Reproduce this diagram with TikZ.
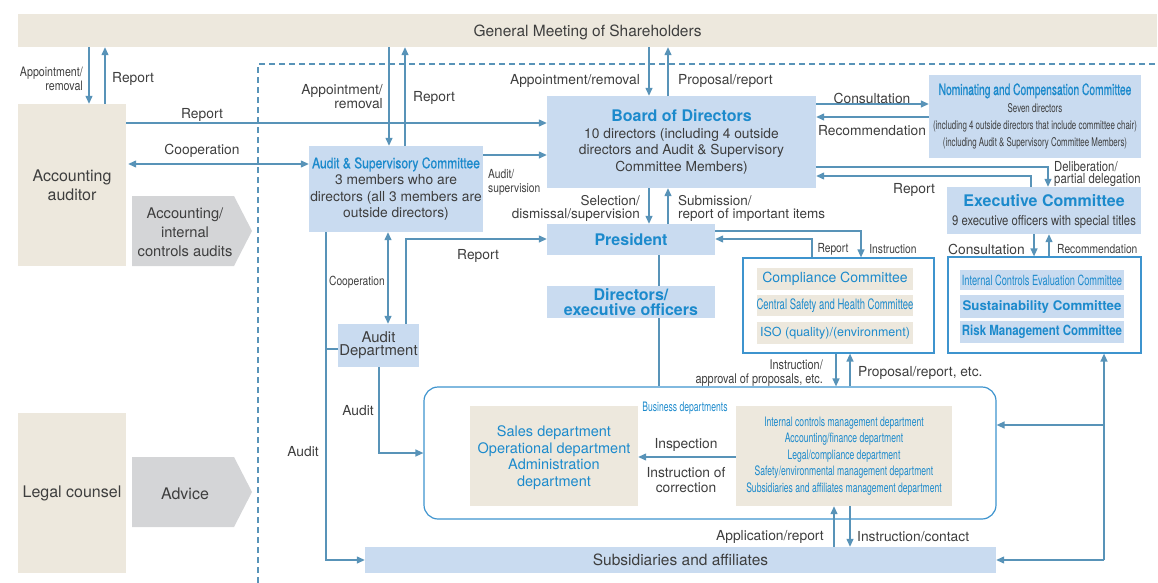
\documentclass[tikz,border=0pt]{standalone}
\usepackage{fontspec}
\setmainfont{TeX Gyre Heros}
\newfontfamily\cnd[FakeStretch=0.66]{TeX Gyre Heros}
\newfontfamily\cndmed[FakeStretch=0.66, FakeBold=0.8]{TeX Gyre Heros}
\newfontfamily\narrow[FakeStretch=0.82]{TeX Gyre Heros}
\newfontfamily\narrowmed[FakeStretch=0.82, FakeBold=0.8]{TeX Gyre Heros}
\usetikzlibrary{arrows.meta}

\definecolor{linkblue}{RGB}{88,147,184}
\definecolor{frameblue}{RGB}{62,148,206}
\definecolor{boxblue}{RGB}{201,219,240}
\definecolor{titleblue}{RGB}{28,138,204}
\definecolor{beige}{RGB}{237,232,221}
\definecolor{chevgray}{RGB}{212,213,215}
\definecolor{textgray}{RGB}{62,62,62}

\newcommand\headfont{\fontsize{16}{19}\selectfont\bfseries}

\begin{document}
\begin{tikzpicture}[x=1pt, y=-1pt, >={Triangle[length=8pt,width=7pt]},
    font=\fontsize{13.8}{16.5}\selectfont]

  \tikzstyle{link}=[draw=linkblue, line width=1.3pt]
  \tikzstyle{lbl}=[inner sep=0pt, text=textgray, align=center, yshift=-2pt]
  \tikzstyle{sml}=[lbl, font=\narrow\fontsize{12.5}{14}\selectfont]
  \tikzstyle{tan}=[fill=beige, inner sep=0pt, text=textgray, align=center]
  \tikzstyle{pale}=[fill=boxblue, inner sep=0pt, text=textgray, align=center]
  \tikzstyle{frame}=[draw=frameblue, line width=1.2pt, inner sep=0pt]

  \useasboundingbox (0,0) rectangle (1158,583);

  % company boundary
  \draw [linkblue, line width=1.2pt, dash pattern=on 6pt off 4pt] (258,583) |- (1158,64);

  % outside parties
  \node [tan, minimum width=1139, minimum height=33, text depth=0pt, font=\fontsize{15.5}{18}\selectfont] (gms) at (587.5,30.5) {General Meeting of Shareholders};
  \node [tan, minimum width=108, minimum height=162, font=\fontsize{16}{19}\selectfont] (accaud) at (72,185) {Accounting\\auditor};
  \node [tan, minimum width=108, minimum height=160, font=\fontsize{16}{19}\selectfont] (legal) at (72,493) {Legal counsel};

  \fill [chevgray] (132,196) -- (234,196) -- (252,231) -- (234,266) -- (132,266) -- cycle;
  \node [lbl, font=\fontsize{14.7}{19}\selectfont] (audits) at (185,230) {Accounting/\\internal\\controls audits};
  \fill [chevgray] (132,457) -- (234,457) -- (252,492) -- (234,527) -- (132,527) -- cycle;
  \node [lbl, font=\fontsize{16}{19}\selectfont] (advice) at (185,492) {Advice};

  % governance boxes
  \node [pale, minimum width=174, minimum height=86] (auditcom) at (396,189) {{\color{titleblue}\narrowmed\fontsize{14.7}{18}\selectfont Audit \& Supervisory Committee}\\3 members who are\\directors (all 3 members are\\outside directors)};
  \node [pale, minimum width=269, minimum height=92] (board) at (681.5,142) {{\color{titleblue}\headfont Board of Directors}\\[0pt]10 directors (including 4 outside\\directors and Audit \& Supervisory\\Committee Members)};
  \node [pale, minimum width=212, minimum height=83, font=\cnd\fontsize{12}{17}\selectfont] (nomcom) at (1035,116.5) {{\color{titleblue}\cndmed\fontsize{15.5}{17}\selectfont Nominating and Compensation Committee}\\[1pt]Seven directors\\(including 4 outside directors that include committee chair)\\(including Audit \& Supervisory Committee Members)};
  \node [pale, minimum width=194, minimum height=47, text depth=0pt, font=\narrow\fontsize{13.8}{14}\selectfont] (exec) at (1044,210.5) {{\color{titleblue}\headfont\rmfamily Executive Committee}\\[5pt]9 executive officers with special titles};
  \node [pale, minimum width=168, minimum height=31, text=titleblue, font=\headfont] (pres) at (631,239.5) {President};
  \node [pale, minimum width=168, minimum height=32, text=titleblue, font=\headfont] (dirs) at (631,302) {Directors/\\[-4pt]executive officers};
  \node [pale, minimum width=81, minimum height=43, font=\fontsize{14.9}{13}\selectfont] (auddep) at (378.5,345.5) {Audit\\Department};

  % committee frames
  \node [frame, minimum width=191, minimum height=95] (compfr) at (838.5,305.5) {};
  \node [tan, minimum width=156, minimum height=22, text=titleblue, font=\fontsize{14}{16}\selectfont] (comp) at (835,279) {Compliance Committee};
  \node [tan, minimum width=156, minimum height=21, text=titleblue, font=\cnd\fontsize{14.4}{15}\selectfont] (csh) at (835,305.5) {Central Safety and Health Committee};
  \node [tan, minimum width=156, minimum height=22, text=titleblue, font=\fontsize{12.5}{14}\selectfont] (iso) at (835,333) {ISO (quality)/(environment)};

  \node [frame, minimum width=193, minimum height=96] (riskfr) at (1044.5,305) {};
  \node [pale, minimum width=164, minimum height=20, text=titleblue, font=\cnd\fontsize{14}{15}\selectfont] (icec) at (1042,280) {Internal Controls Evaluation Committee};
  \node [pale, minimum width=164, minimum height=23, text=titleblue, font=\bfseries\fontsize{13.3}{15}\selectfont] (sust) at (1042,306.5) {Sustainability Committee};
  \node [pale, minimum width=164, minimum height=22, text=titleblue, font=\narrow\bfseries\fontsize{14}{16}\selectfont] (risk) at (1042,332) {Risk Management Committee};

  % business departments
  \node [frame, rounded corners=14pt, minimum width=572, minimum height=132] (bizfr) at (710,453) {};
  \node [lbl, text=titleblue, font=\cnd\fontsize{13}{14}\selectfont] (bizlbl) at (685,406) {Business departments};
  \node [tan, minimum width=168, minimum height=100, text=titleblue, text depth=0pt, font=\fontsize{14.5}{16.5}\selectfont] (sales) at (554,456) {Sales department\\Operational department\\Administration\\department};
  \node [tan, minimum width=216, minimum height=100, text=titleblue, font=\cnd\fontsize{13}{16.5}\selectfont] (mgmt) at (844,456) {Internal controls management department\\Accounting/finance department\\Legal/compliance department\\Safety/environmental management department\\Subsidiaries and affiliates management department};

  \node [pale, minimum width=631, minimum height=26, text depth=0pt, font=\fontsize{15.5}{18}\selectfont] (subs) at (680.5,560) {Subsidiaries and affiliates};

  % shareholders
  \draw [link, ->] (gms.south -| 89,0) -- (accaud.north -| 89,0);
  \draw [link, ->] (accaud.north -| 105,0) -- (gms.south -| 105,0);
  \draw [link, ->] (gms.south -| 389,0) -- (auditcom.north -| 389,0);
  \draw [link, ->] (auditcom.north -| 405,0) -- (gms.south -| 405,0);
  \draw [link, ->] (gms.south -| 649,0) -- (board.north -| 649,0);
  \draw [link, ->] (board.north -| 668,0) -- (gms.south -| 668,0);
  \node [sml, align=right, anchor=east, font=\narrow\fontsize{13}{14}\selectfont] at (83,77) {Appointment/\\removal};
  \node [lbl, anchor=west] at (112,77) {Report};
  \node [lbl, align=right, anchor=east, font=\fontsize{13.8}{14}\selectfont] at (383,95) {Appointment/\\removal};
  \node [lbl, anchor=west] at (413,96) {Report};
  \node [lbl, anchor=east] at (640,79) {Appointment/removal};
  \node [lbl, anchor=west] at (678,79) {Proposal/report};

  % accounting auditor
  \draw [link, ->] (accaud.east |- 0,123) -- (board.west |- 0,123);
  \draw [link, <->] ([xshift=2pt]accaud.east |- 0,164) -- (auditcom.west |- 0,164);
  \node [lbl] at (202,113) {Report};
  \node [lbl] at (202,149) {Cooperation};

  % board and committees
  \draw [link, ->] (auditcom.east |- 0,155) -- (board.west |- 0,155);
  \node [sml, align=left, anchor=west] at (488,180) {Audit/\\supervision};
  \draw [link, ->] (board.east |- 0,104) -- (nomcom.west |- 0,104);
  \draw [link, ->] (nomcom.west |- 0,117) -- (board.east |- 0,117);
  \node [lbl] at (872,96) {Consultation};
  \node [lbl] at (872,129) {Recommendation};
  \draw [link, ->] (board.east |- 0,167) -| (exec.north -| 1048,0);
  \draw [link, ->] (exec.north -| 1031,0) |- (board.east |- 0,176);
  \node [lbl, align=left, anchor=west, font=\narrow\fontsize{13.8}{12}\selectfont] at (1054,172) {Deliberation/\\partial delegation};
  \node [lbl] at (914,188) {Report};

  \draw [link, ->] (board.south -| 649,0) -- (pres.north -| 649,0);
  \draw [link, ->] (pres.north -| 668,0) -- (board.south -| 668,0);
  \node [lbl, align=right, anchor=east, font=\fontsize{13.5}{13}\selectfont] at (640,206) {Selection/\\dismissal/supervision};
  \node [lbl, align=left, anchor=west, font=\fontsize{13.5}{13}\selectfont] at (678,206) {Submission/\\report of important items};

  % president and committees
  \draw [link, ->] (compfr.north -| 812,0) |- (pres.east |- 0,239);
  \draw [link, ->] (pres.east |- 0,231) -| (compfr.north -| 861,0);
  \node [sml] at (833,247) {Report};
  \node [sml] at (893,247) {Instruction};
  \draw [link, ->] (exec.south -| 1034,0) -- (riskfr.north -| 1034,0);
  \draw [link, ->] (riskfr.north -| 1049,0) -- (exec.south -| 1049,0);
  \node [lbl, anchor=east] at (1025,247) {Consultation};
  \node [sml, anchor=west] at (1057,247) {Recommendation};

  \draw [link] (pres.south -| 659,0) -- (dirs.north -| 659,0);
  \draw [link] (dirs.south -| 659,0) -- (bizfr.north -| 659,0);

  % audit lines
  \draw [link, <->] (auditcom.south -| 388,0) -- (auddep.north -| 388,0);
  \node [sml] at (357,280) {Cooperation};
  \draw [link, ->] (auddep.north -| 406,0) |- (pres.west |- 0,239);
  \node [lbl] at (478,254) {Report};
  \draw [link, ->] (auditcom.south -| 326,0) |- (subs.west |- 0,560);
  \coordinate (tick) at (326,349);
  \draw [link] (tick) -- (auddep.west |- tick);
  \node [lbl] at (303,450) {Audit};
  \draw [link, ->] (auddep.south -| 379,0) |- (bizfr.west |- 0,453);
  \node [lbl] at (358,409) {Audit};

  % business departments
  \draw [link, ->] (compfr.south -| 836,0) -- (bizfr.north -| 836,0);
  \draw [link, ->] (bizfr.north -| 850,0) -- (compfr.south -| 850,0);
  \node [lbl, align=right, anchor=east, font=\narrow\fontsize{13.3}{13.5}\selectfont] at (823,371) {Instruction/\\approval of proposals, etc.};
  \node [lbl, anchor=west] at (858,371) {Proposal/report, etc.};
  \draw [link, ->] (mgmt.west |- 0,457) -- (sales.east |- 0,457);
  \node [lbl] at (686,443) {Inspection};
  \node [lbl, font=\fontsize{13.8}{15}\selectfont] at (686,478) {Instruction of\\correction};

  \draw [link, ->] (subs.north -| 834,0) -- (mgmt.south -| 834,0);
  \draw [link, ->] (mgmt.south -| 850,0) -- (subs.north -| 850,0);
  \node [lbl, anchor=east] at (824,535) {Application/report};
  \node [lbl, anchor=west] at (857,535) {Instruction/contact};

  % right-hand branch
  \coordinate (rj) at (1104,560);
  \coordinate (rk) at (1104,425);
  \draw [link, ->] (rj) -- (riskfr.south -| rj);
  \draw [link, ->] (rk) -- (bizfr.east |- rk);
  \draw [link, ->] (rj) -- (subs.east |- rj);

\end{tikzpicture}
\end{document}
